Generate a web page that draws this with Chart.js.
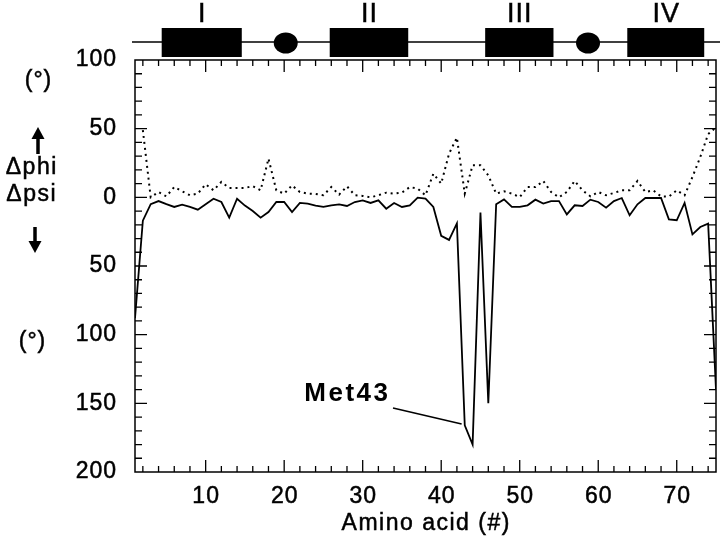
<!DOCTYPE html>
<html><head><meta charset="utf-8">
<script src="https://cdn.jsdelivr.net/npm/chart.js@4/dist/chart.umd.min.js"></script>
<style>html,body{margin:0;padding:0;background:#fff;}#wrap{width:720px;height:548px;position:relative;}</style>
</head><body><div id="wrap"><canvas id="c" width="720" height="548"></canvas></div>
<script>
const residues = [1,2,3,4,5,6,7,8,9,10,11,12,13,14,15,16,17,18,19,20,21,22,23,24,25,26,27,28,29,30,31,32,33,34,35,36,37,38,39,40,41,42,43,44,45,46,47,48,49,50,51,52,53,54,55,56,57,58,59,60,61,62,63,64,65,66,67,68,69,70,71,72,73,74,75];
// dotted line: delta phi (plotted upward)
const dPhi = [null,49,0,3.9,0.7,7.5,4.4,1.5,2.7,9.5,5.1,11.2,6.8,6.8,6.8,8.2,5.1,28.2,5.1,2.7,8.7,3.9,2.7,2.5,1.5,7.5,2,8,1.5,1,0,1.5,3.4,2.7,3.4,7.5,6.3,1.5,17.2,10,31.8,43.5,2.7,23.3,23.3,16,2.7,4.4,2.7,0.2,7.5,7.5,11.9,3.9,0,3.9,11.9,5.1,0.7,3.9,1.5,3.2,5.1,5.1,11.9,3.9,5.1,0.7,0.5,5.1,1.5,14.8,29.4,46,51];
// solid line: delta psi (plotted downward)
const dPsi = [-88,-17,-5,-2.7,-5,-7,-5.3,-7,-9,-5,-1,-3.4,-14.8,-1,-6,-10,-14.8,-10.7,-3.4,-3.4,-10.7,-4,-4.6,-6,-7,-5.8,-5.1,-6.3,-3.4,-2.2,-4.1,-2.2,-8.3,-4.1,-7,-5.8,-0.2,-1,-7,-28,-31,-19,-166,-180,-11,-150,-5,-1.5,-7,-7,-5.8,-1.7,-4.6,-2.7,-2.7,-12.4,-5.8,-6.3,-1.7,-3.4,-7.5,-2.7,-0.5,-13.1,-5.1,-0.5,-0.5,-0.5,-16,-16.7,-4.1,-27,-21.6,-19.2,-140];
const xTickValues = [10,20,30,40,50,60,70];
const yTickValues = [100,50,0,-50,-100,-150,-200];
const yTickLabels = ['100','50','0','50','100','150','200'];
// secondary structure bar
const boxNames = ['I','II','III','IV'];
const boxStart = [4.4,25.8,45.6,63.7];
const boxEnd = [14.6,35.8,54.3,73.5];
const loopCenters = [20.2,58.7];

const FONT = "'Liberation Sans', Arial, sans-serif";

function txt(ctx, s, x, y, font, align, spacing, heavy) {
  ctx.font = font; ctx.textAlign = align || 'center'; ctx.textBaseline = 'middle';
  ctx.letterSpacing = (spacing || 0) + 'px';
  let dx = 0;
  if (spacing) { if (ctx.textAlign === 'center') dx = spacing / 2; else if (ctx.textAlign === 'right') dx = spacing; }
  ctx.fillText(s, x + dx, y);
  if (heavy) { ctx.lineWidth = heavy; ctx.strokeText(s, x + dx, y); }
  ctx.letterSpacing = '0px';
}

const decor = {
  id:'decor',
  afterDraw(chart){
    const ctx = chart.ctx, a = chart.chartArea;
    const xs = chart.scales.x, ys = chart.scales.y;
    ctx.save();
    ctx.strokeStyle = '#000'; ctx.fillStyle = '#000'; ctx.lineWidth = 1.5;
    ctx.strokeRect(a.left, a.top, a.right - a.left, a.bottom - a.top);
    ctx.lineWidth = 1.3;
    ctx.beginPath();
    for (let v = 2; v <= 74; v += 2) {
      const p = xs.getPixelForValue(v);
      const len = v % 10 === 0 ? 12 : 6;
      ctx.moveTo(p, a.bottom); ctx.lineTo(p, a.bottom - len);
      ctx.moveTo(p, a.top); ctx.lineTo(p, a.top + len);
    }
    for (let v = -190; v <= 90; v += 10) {
      const p = ys.getPixelForValue(v);
      const len = v % 50 === 0 ? 12 : 7;
      ctx.moveTo(a.left, p); ctx.lineTo(a.left + len, p);
      ctx.moveTo(a.right, p); ctx.lineTo(a.right - len, p);
    }
    ctx.stroke();

    // tick labels
    const tf = "23px " + FONT;
    xTickValues.forEach(v => txt(ctx, String(v), xs.getPixelForValue(v), 497, tf, 'center', 1, 0.5));
    yTickValues.forEach((v, i) => txt(ctx, yTickLabels[i], 116, ys.getPixelForValue(v), tf, 'right', 1, 0.5));

    // top structure bar
    ctx.lineWidth = 1.5;
    ctx.beginPath(); ctx.moveTo(a.left - 3, 42); ctx.lineTo(720, 42); ctx.stroke();
    for (let i = 0; i < boxNames.length; i++) {
      const x0 = xs.getPixelForValue(boxStart[i]), x1 = xs.getPixelForValue(boxEnd[i]);
      ctx.fillRect(x0, 28, x1 - x0, 29);
      txt(ctx, boxNames[i], (x0 + x1) / 2, 15, "27px " + FONT, 'center', 1, 0.5);
    }
    for (const c of loopCenters) {
      ctx.beginPath(); ctx.ellipse(xs.getPixelForValue(c), 43, 12, 10.5, 0, 0, Math.PI * 2); ctx.fill();
    }

    // left labels
    const lf = "23px " + FONT;
    txt(ctx, '(°)', 38, 81, lf, 'center', 1, 0.5);
    txt(ctx, 'Δphi', 31, 168, lf, 'center', 1.5, 0.5);
    txt(ctx, 'Δpsi', 31, 195, lf, 'center', 1.5, 0.5);
    txt(ctx, '(°)', 32, 342, lf, 'center', 1, 0.5);
    // arrows
    ctx.lineWidth = 3.5;
    ctx.beginPath(); ctx.moveTo(38, 154); ctx.lineTo(38, 136); ctx.stroke();
    ctx.beginPath(); ctx.moveTo(31.5, 139); ctx.lineTo(38, 127); ctx.lineTo(44.5, 139); ctx.closePath(); ctx.fill();
    ctx.beginPath(); ctx.moveTo(35, 227); ctx.lineTo(35, 243); ctx.stroke();
    ctx.beginPath(); ctx.moveTo(28.5, 241); ctx.lineTo(35, 253); ctx.lineTo(41.5, 241); ctx.closePath(); ctx.fill();

    // axis title
    txt(ctx, 'Amino acid (#)', (a.left + a.right) / 2, 524, "23px " + FONT, 'center', 1.5, 0.5);

    // Met43 annotation
    txt(ctx, 'Met43', 388, 394, "bold 26px " + FONT, 'right', 2.5, 0);
    ctx.lineWidth = 1.5;
    ctx.beginPath(); ctx.moveTo(393, 408);
    ctx.lineTo(xs.getPixelForValue(42.6), ys.getPixelForValue(-165)); ctx.stroke();
    ctx.restore();
  }
};

new Chart(document.getElementById('c'), {
  type: 'line',
  data: {
    datasets: [
      { label: 'Δpsi', data: residues.map((r, i) => ({x: r, y: dPsi[i]})), borderColor: '#000', borderWidth: 1.8, pointRadius: 0, tension: 0, fill: false },
      { label: 'Δphi', data: residues.map((r, i) => ({x: r, y: dPhi[i]})), borderColor: '#000', borderWidth: 2, borderDash: [2, 4], pointRadius: 0, tension: 0, fill: false, spanGaps: false }
    ]
  },
  options: {
    responsive: false, animation: false, devicePixelRatio: 1,
    layout: { padding: { top: 60, right: 4, left: 0, bottom: 0 } },
    plugins: { legend: { display: false }, tooltip: { enabled: false } },
    scales: {
      x: {
        type: 'linear', min: 1, max: 75,
        grid: { display: false, drawTicks: false },
        border: { display: false },
        ticks: { display: false },
        afterFit(s) { s.height = 76; }
      },
      y: {
        type: 'linear', min: -200, max: 100,
        grid: { display: false, drawTicks: false },
        border: { display: false },
        ticks: { display: false },
        afterFit(s) { s.width = 135; }
      }
    }
  },
  plugins: [decor]
});
</script></body></html>
